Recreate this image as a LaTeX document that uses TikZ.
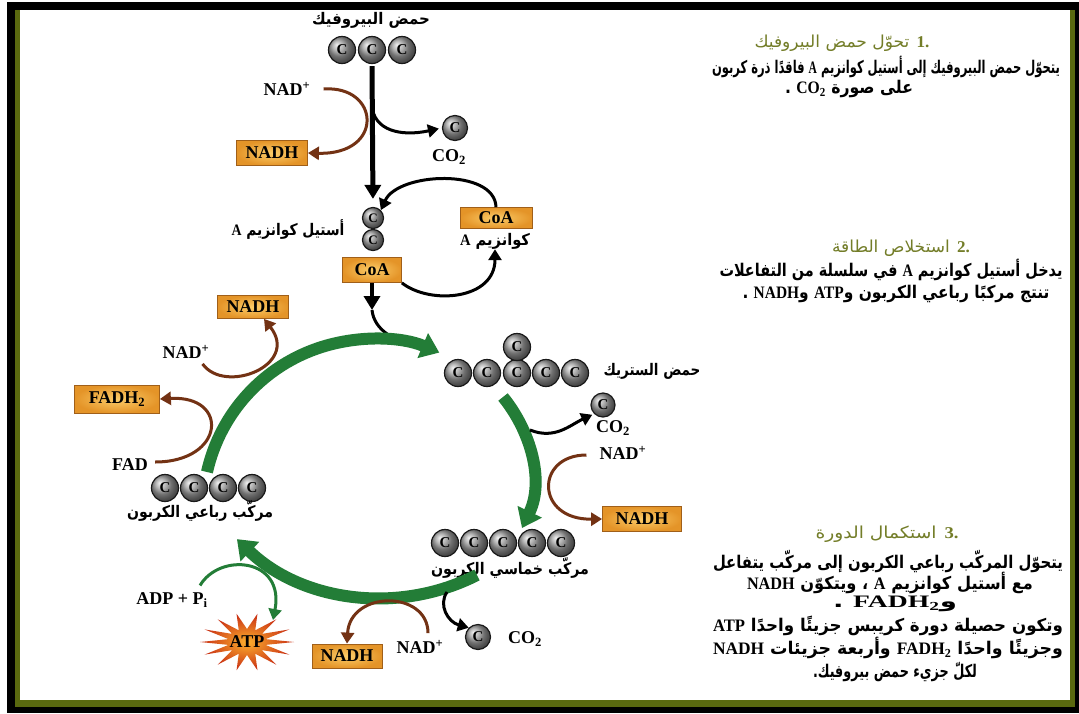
\documentclass[tikz,border=0pt]{standalone}
\usepackage{graphicx}
\usepackage{fontspec}
\setmainfont{Liberation Serif}
\newfontfamily\arabicfont[Script=Arabic]{DejaVu Sans}
\newfontfamily\lat{Liberation Serif}
\TeXXeTstate=1
\usetikzlibrary{arrows.meta,calc}
\definecolor{brn}{RGB}{115,50,20}
\definecolor{grn}{RGB}{35,125,55}
\definecolor{oliv}{RGB}{90,105,15}
\definecolor{ttlc}{RGB}{115,125,40}
\definecolor{boxin}{RGB}{252,205,105}
\definecolor{boxout}{RGB}{228,148,40}
\definecolor{boxdr}{RGB}{160,95,25}
\newcommand{\lbl}{\lat\bfseries\fontsize{18}{20}\selectfont}
\newcommand{\la}[1]{\beginL{\lat\bfseries #1}\endL}
\newcommand{\artxt}[2]{\resizebox{#1pt}{\height}{\arabicfont\bfseries\fontsize{16}{18}\selectfont #2}}
\newcommand{\bodyl}[2]{\resizebox{#1pt}{\height}{\arabicfont\bfseries\fontsize{17.5}{20}\selectfont #2}}
\newcommand{\ttl}[2]{\resizebox{#1pt}{\height}{\color{ttlc}\arabicfont\fontsize{16.5}{19}\selectfont #2}}
\begin{document}
\begin{tikzpicture}[x=1pt,y=-1pt,
 lbl/.style={font=\lbl, inner sep=1pt},
 obox/.style={draw=boxdr, line width=0.8pt, inner color=boxin, outer color=boxout, inner sep=0pt, font=\lbl},
 cball/.style={circle, draw=black!90, line width=1.2pt, ball color=gray!75, minimum size=27pt, inner sep=0pt, font=\lat\bfseries\fontsize{15}{15}\selectfont},
 blk/.style={draw=black, line width=3pt, -{Triangle[length=11pt,width=13pt]}},
 brnarr/.style={draw=brn, line width=3pt, -{Triangle[length=11pt,width=13pt]}},
 grnarr/.style={draw=grn, line width=12pt, -{Triangle[length=18pt,width=26pt]}},
 grnthin/.style={draw=grn, line width=3pt, -{Triangle[length=11pt,width=13pt]}},
 mainln/.style={draw=black, line width=5pt, -{Triangle[length=14pt,width=16pt]}},
 artx/.style={inner sep=0pt}]
\useasboundingbox (0,0) rectangle (1079,713);
% frame
\fill[black] (7,2) rectangle (1079,713);
\fill[oliv] (15,10) rectangle (1075,707);
\fill[white] (20,10) rectangle (1070,700);

% ---------- top: pyruvate ----------
\node[artx] (pyrlbl) at (371,20) {\artxt{118}{\beginR حمض البيروفيك\endR}};
\node[cball] (p1) at (342,50) {C};
\node[cball] (p2) at (372,50) {C};
\node[cball] (p3) at (402,50) {C};
\node[lbl] (nadp1) at (287,89) {NAD\textsuperscript{+}};
\node[obox, minimum width=71pt, minimum height=25pt] (nadh1) at (272,153) {NADH};
\node[cball, minimum size=25pt] (co2b1) at (455,128) {C};
\node[lbl] (co2l1) at (449,157) {CO\textsubscript{2}};

% acetyl CoA
\node[cball, minimum size=21pt, font=\lat\bfseries\fontsize{13}{13}\selectfont] (a1) at (373,218) {C};
\node[cball, minimum size=21pt, font=\lat\bfseries\fontsize{13}{13}\selectfont] (a2) at (373,240) {C};
\node[artx] (acetl) at (288,230) {\artxt{113}{\beginR أستيل كوانزيم \la{A}\endR}};
\node[obox, minimum width=59pt, minimum height=25pt] (coa1) at (372,270) {CoA};
\node[obox, minimum width=72pt, minimum height=21pt] (coa2) at (496,218) {CoA};
\node[artx] (coa2l) at (495,241) {\artxt{70}{\beginR كوانزيم \la{A}\endR}};

% citrate
\node[cball] (c1) at (458,373) {C};
\node[cball] (c2) at (487,373) {C};
\node[cball] (c3) at (517,373) {C};
\node[cball] (c4) at (546,373) {C};
\node[cball] (c5) at (575,373) {C};
\node[cball] (c6) at (517,347) {C};
\node[artx] (citl) at (652,371) {\artxt{97}{\beginR حمض الستريك\endR}};

% right side
\node[cball, minimum size=24pt] (co2b2) at (603,405) {C};
\node[lbl] (co2l2) at (613,428) {CO\textsubscript{2}};
\node[lbl] (nadp2) at (623,453) {NAD\textsuperscript{+}};
\node[obox, minimum width=79pt, minimum height=25pt] (nadh2) at (642,519) {NADH};

% five-carbon
\node[cball] (f1) at (445,543) {C};
\node[cball] (f2) at (474,543) {C};
\node[cball] (f3) at (503,543) {C};
\node[cball] (f4) at (532,543) {C};
\node[cball] (f5) at (561,543) {C};
\node[artx] (fivel) at (510,568) {\artxt{158}{\beginR مركّب خماسي الكربون\endR}};

% four-carbon
\node[cball] (q1) at (165,488) {C};
\node[cball] (q2) at (194,488) {C};
\node[cball] (q3) at (223,488) {C};
\node[cball] (q4) at (252,488) {C};
\node[artx] (fourl) at (200,511) {\artxt{146}{\beginR مركّب رباعي الكربون\endR}};

% left side
\node[obox, minimum width=71pt, minimum height=23pt] (nadh3) at (253,307) {NADH};
\node[lbl] (nadp3) at (186,352) {NAD\textsuperscript{+}};
\node[obox, minimum width=85pt, minimum height=28pt] (fadh) at (117,399) {FADH\textsubscript{2}};
\node[lbl] (fad) at (130,465) {FAD};

% bottom
\node[lbl] (adp) at (172,600) {ADP + P\textsubscript{i}};
\shade[inner color={rgb,255:red,252;green,175;blue,45}, outer color={rgb,255:red,200;green,45;blue,20}]
  plot[variable=\i, samples at={0,...,27}] ({247+(isodd(\i) ? 19 : 47)*cos(\i*360/28)}, {642+(isodd(\i) ? 13 : 29)*sin(\i*360/28)}) -- cycle;
\node[lbl] (atp) at (247,642) {ATP};
\node[obox, minimum width=70pt, minimum height=24pt] (nadh4) at (347,656) {NADH};
\node[lbl] (nadp4) at (420,647) {NAD\textsuperscript{+}};
\node[cball, minimum size=25pt] (co2b3) at (478,637) {C};
\node[lbl] (co2l3) at (525,639) {CO\textsubscript{2}};

% ---------- connectors ----------
\draw[mainln, shorten <=2pt, shorten >=8pt] (p2.south) -- (a1.north);
\coordinate (br1) at (372,106);
\draw[blk, shorten >=3pt] (br1) .. controls (374,130) and (400,137) .. (co2b1.west);
\draw[brnarr] ([xshift=12pt]nadp1.east) .. controls (380,85) and (385,155) .. (nadh1.east);
\draw[blk] (coa2.north) .. controls (495,168) and (398,172) .. (a1.north east);
\draw[blk] (coa1.south east) .. controls (430,305) and (495,300) .. (coa2l.south);
\coordinate (j1) at (372,310);
\coordinate (j2) at (417,345);
\draw[draw=black, line width=3pt] (j1) .. controls (374,330) and (395,342) .. (j2);
\draw[mainln, line width=4pt] (coa1.south) -- (j1);

% green cycle
\coordinate (gA) at (207,472);
\draw[grnarr] (gA) arc[start angle=192.6, end angle=293, radius=170];
\coordinate (gB) at (503,397);
\coordinate (gBe) at (522,528);
\draw[grnarr] (gB) .. controls (530,430) and (545,480) .. (gBe);
\coordinate (gC) at (477,575);
\draw[grnarr] (gC) arc[start angle=63, end angle=134, radius=209];

\draw[grnthin] ($(adp.north)+(28,-6)$) .. controls (220,552) and (285,558) .. ($(atp)+(26,-22)$);

\draw[brnarr] ($(nadp3.south east)+(-8,4)$) .. controls (225,395) and (300,365) .. ($(nadh3.south)+(11,0)$);
\draw[brnarr] ($(fad.east)+(6,-3)$) .. controls (225,462) and (230,395) .. (fadh.east);
\draw[brnarr] ($(nadp2.west)+(-12,2)$) .. controls (535,455) and (535,520) .. (nadh2.west);
\draw[brnarr] ($(nadp4.north)+(8,-6)$) .. controls (428,590) and (350,590) .. (nadh4.north);
\coordinate (br2) at (530,430);
\draw[blk, shorten >=2pt] (br2) .. controls (555,440) and (570,425) .. (co2b2.south west);
\coordinate (br3) at (447,592);
\draw[blk] (br3) .. controls (438,605) and (448,622) .. (co2b3.north west);

% ---------- text blocks ----------
\node[artx] (t1) at (842,43) {\ttl{175}{\beginR\la{1.} تحوّل حمض البيروفيك\endR}};
\node[artx] (t1a) at (886,67) {\bodyl{348}{\beginR يتحوّل حمض البيروفيك إلى أستيل كوانزيم \la{A} فاقدًا ذرة كربون\endR}};
\node[artx] (t1b) at (849,89) {\bodyl{128}{\beginR على صورة \la{CO\textsubscript{2}} .\endR}};

\node[artx] (t2) at (901,248) {\ttl{138}{\beginR\la{2.} استخلاص الطاقة\endR}};
\node[artx] (t2a) at (891,270) {\bodyl{343}{\beginR يدخل أستيل كوانزيم \la{A} في سلسلة من التفاعلات\endR}};
\node[artx] (t2b) at (896,294) {\bodyl{307}{\beginR تنتج مركبًا رباعي الكربون و\la{ATP} و\la{NADH} .\endR}};

\node[artx] (t3) at (887,534) {\ttl{143}{\beginR\la{3.} استكمال الدورة\endR}};
\node[artx] (t3a) at (888,562) {\bodyl{350}{\beginR يتحوّل المركّب رباعي الكربون إلى مركّب يتفاعل\endR}};
\node[artx] (t3b) at (890,583) {\bodyl{286}{\beginR مع أستيل كوانزيم \la{A} ، ويتكوّن \la{NADH}\endR}};
\node[artx] (t3c) at (895,604) {\bodyl{124}{\beginR و\la{FADH\textsubscript{2}} .\endR}};
\node[artx] (t3d) at (888,626) {\bodyl{350}{\beginR وتكون حصيلة دورة كريبس جزيئًا واحدًا \la{ATP}\endR}};
\node[artx] (t3e) at (888,648) {\bodyl{350}{\beginR وجزيئًا واحدًا \la{FADH\textsubscript{2}} وأربعة جزيئات \la{NADH}\endR}};
\node[artx] (t3f) at (895,672) {\bodyl{164}{\beginR لكلّ جزيء حمض بيروفيك\kern0pt.\endR}};
\end{tikzpicture}
\end{document}
